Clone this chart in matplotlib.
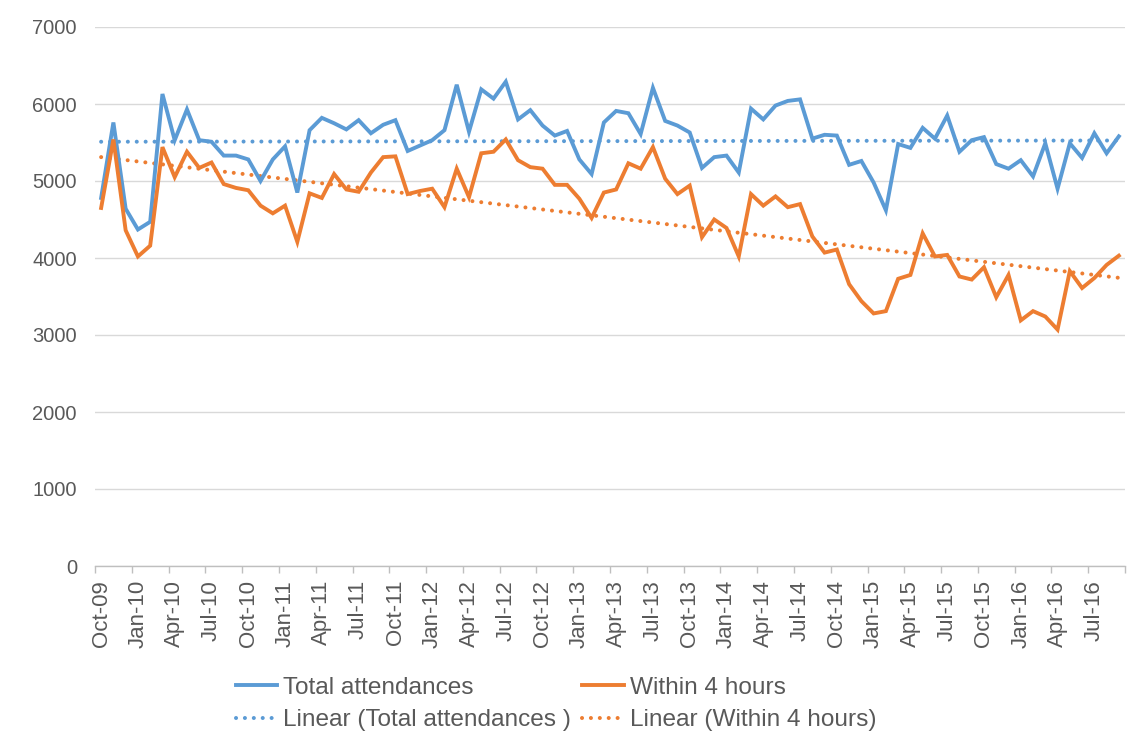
import numpy as np
import matplotlib
matplotlib.use("Agg")
import matplotlib.pyplot as plt

plt.rcParams['font.family'] = ['Liberation Sans', 'DejaVu Sans']

months = ["Oct", "Nov", "Dec", "Jan", "Feb", "Mar", "Apr", "May", "Jun", "Jul", "Aug", "Sep"]
start_year = 2009
n_points = 84

total_attendances = [
    4780, 5760, 4640, 4370, 4470, 6130, 5530, 5930, 5530, 5510, 5330, 5330,
    5280, 5000, 5280, 5450, 4850, 5660, 5820, 5750, 5670, 5790, 5620, 5730,
    5790, 5390, 5460, 5530, 5660, 6250, 5640, 6190, 6070, 6290, 5800, 5920,
    5720, 5590, 5650, 5280, 5090, 5760, 5910, 5880, 5610, 6210, 5780, 5720,
    5630, 5170, 5310, 5330, 5110, 5940, 5800, 5980, 6040, 6060, 5550, 5600,
    5590, 5210, 5260, 4980, 4620, 5480, 5430, 5690, 5550, 5850, 5380, 5530,
    5570, 5220, 5160, 5270, 5060, 5490, 4900, 5490, 5300, 5620, 5360, 5580,
]
within_4_hours = [
    4650, 5540, 4360, 4020, 4160, 5440, 5050, 5380, 5170, 5240, 4960, 4910,
    4880, 4680, 4580, 4680, 4210, 4840, 4780, 5090, 4890, 4860, 5110, 5310,
    5320, 4830, 4870, 4900, 4660, 5160, 4790, 5360, 5380, 5540, 5270, 5180,
    5160, 4950, 4950, 4770, 4520, 4850, 4890, 5230, 5160, 5440, 5030, 4830,
    4940, 4270, 4500, 4390, 4020, 4830, 4680, 4800, 4660, 4700, 4280, 4070,
    4110, 3660, 3440, 3280, 3310, 3730, 3780, 4320, 4020, 4040, 3760, 3720,
    3880, 3490, 3780, 3190, 3310, 3240, 3070, 3830, 3610, 3740, 3910, 4030,
]

# category labels
labels = []
for i in range(n_points):
    m = months[i % 12]
    yr = start_year + (i + 9) // 12
    labels.append(f"{m}-{yr % 100:02d}")

blue = "#5B9BD5"
orange = "#ED7D31"
text_col = "#595959"

fig = plt.figure(figsize=(11.35, 7.42), dpi=100)
ax = fig.add_axes([95 / 1135, 176 / 742, 1030 / 1135, 539 / 742])

x = np.arange(n_points)
t = np.array(total_attendances, dtype=float)
w = np.array(within_4_hours, dtype=float)
pt = np.polyfit(x, t, 1)
pw = np.polyfit(x, w, 1)

dot = (0, (0.01, 2.2))
l1, = ax.plot(x, t, color=blue, lw=2.8, solid_joinstyle='miter', zorder=4, label="Total attendances")
l2, = ax.plot(x, w, color=orange, lw=2.8, solid_joinstyle='miter', zorder=4, label="Within 4 hours")
l3, = ax.plot(x, np.polyval(pt, x), color=blue, lw=2.9, linestyle=dot,
              dash_capstyle='round', zorder=3, label="Linear (Total attendances )")
l4, = ax.plot(x, np.polyval(pw, x), color=orange, lw=2.9, linestyle=dot,
              dash_capstyle='round', zorder=3, label="Linear (Within 4 hours)")

ax.set_xlim(-0.5, n_points - 0.5)
ax.set_ylim(0, 7000)
ax.set_yticks(range(0, 7001, 1000))
ax.yaxis.grid(True, color="#D9D9D9", lw=1)
ax.set_axisbelow(True)
for s in ["top", "right", "left"]:
    ax.spines[s].set_visible(False)
ax.spines["bottom"].set_color("#BFBFBF")
ax.spines["bottom"].set_linewidth(1)

ax.set_xticks(x[::3])
ax.set_xticklabels(labels[::3], rotation=90, fontsize=16, color=text_col)
ax.set_xticks(np.arange(-0.5, n_points, 3), minor=True)
ax.tick_params(axis='x', which='major', length=0, pad=10)
ax.tick_params(axis='x', which='minor', length=5, color="#BFBFBF", width=1)
ax.tick_params(axis='y', length=0, labelsize=14.5, labelcolor=text_col, pad=13)

fig.legend(handles=[l1, l3, l2, l4], loc='center', ncol=2, frameon=False,
           bbox_to_anchor=(0.49, 0.051), fontsize=17.6, labelcolor=text_col,
           handlelength=1.7, handletextpad=0.25, columnspacing=0.45, labelspacing=0.42)

fig.savefig("out.png", dpi=100)
